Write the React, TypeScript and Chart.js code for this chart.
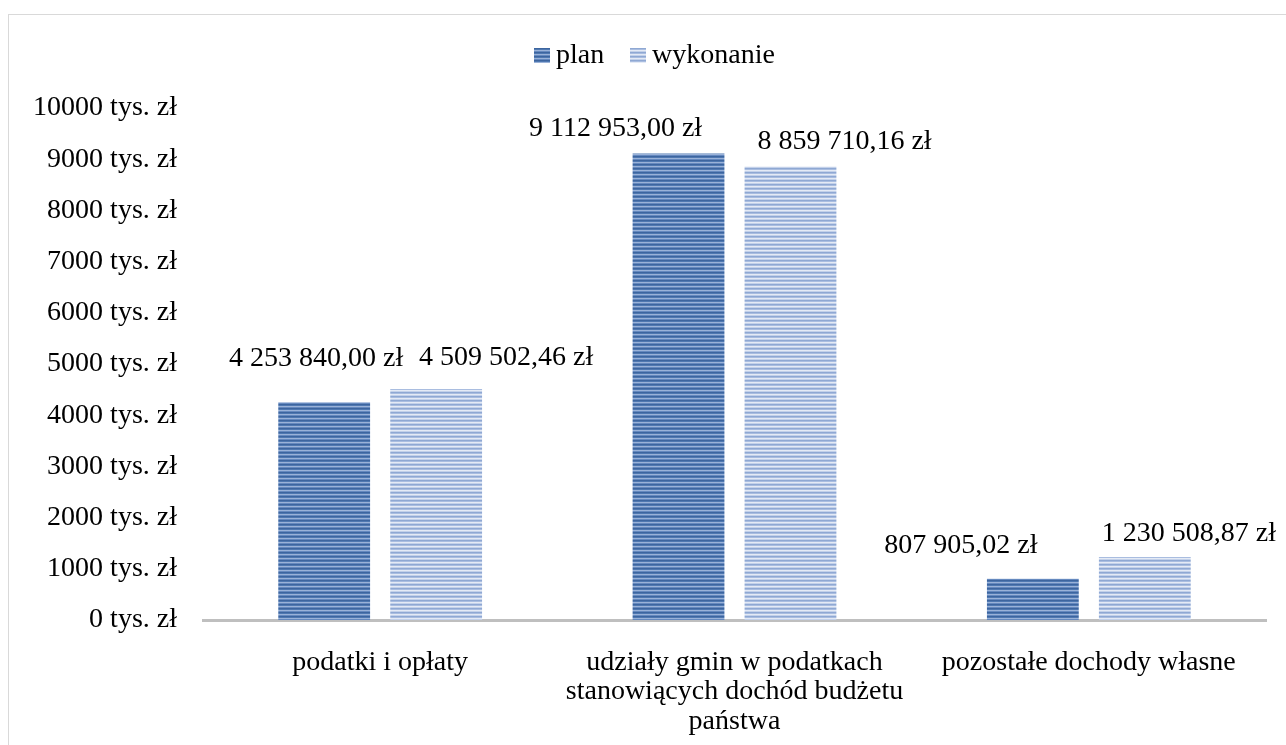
import React, { useEffect, useRef } from "react";
import { Chart, registerables } from "chart.js";

Chart.register(...registerables);

// ---- data ----
const categories: string[][] = [
  ["podatki i opłaty"],
  ["udziały gmin w podatkach", "stanowiących dochód budżetu", "państwa"],
  ["pozostałe dochody własne"],
];
const seriesNames = ["plan", "wykonanie"];
const planValues = [4253840.0, 9112953.0, 807905.02]; // zł
const wykonanieValues = [4509502.46, 8859710.16, 1230508.87]; // zł
const yTickValues = [0, 1000, 2000, 3000, 4000, 5000, 6000, 7000, 8000, 9000, 10000]; // tys. zł

// ---- layout / style (not data) ----
const FONT = "'Liberation Serif', 'Times New Roman', serif";
const labelOffsets: number[][][] = [
  [[-8, -44], [-63, -25], [-72, -33]],
  [[70, -31], [54, -25], [44, -23]],
];
const darkStripes = ["#3d659f", "#4f78b1", "#9ab2d8", "#6589bf"];
const lightStripes = ["#8fa8d3", "#a9bde0", "#e4eaf5", "#c3d1ea"];

function makeStripe(colors: string[]): CanvasPattern | string {
  const c = document.createElement("canvas");
  c.width = 8;
  c.height = colors.length;
  const g = c.getContext("2d");
  if (!g) return colors[0];
  colors.forEach((col, i) => {
    g.fillStyle = col;
    g.fillRect(0, i, 8, 1);
  });
  return g.createPattern(c, "repeat") || colors[0];
}

function fmtZl(v: number): string {
  const [intPart, dec] = v.toFixed(2).split(".");
  const grouped = intPart.replace(/\B(?=(\d{3})+(?!\d))/g, " ");
  return grouped + "," + dec + " zł";
}

export default function App() {
  const ref = useRef<HTMLCanvasElement | null>(null);

  useEffect(() => {
    const canvas = ref.current;
    if (!canvas) return;
    const patPlan = makeStripe(darkStripes);
    const patWyk = makeStripe(lightStripes);
    const rawSeries = [planValues, wykonanieValues];

    const labelsPlugin = {
      id: "valueLabels",
      afterDatasetsDraw(chart: any) {
        const ctx = chart.ctx;
        ctx.save();
        ctx.font = `28px ${FONT}`;
        ctx.fillStyle = "#000";
        ctx.textAlign = "center";
        ctx.textBaseline = "middle";
        chart.data.datasets.forEach((ds: any, di: number) => {
          const meta = chart.getDatasetMeta(di);
          meta.data.forEach((bar: any, i: number) => {
            const [dx, dy] = labelOffsets[di][i];
            ctx.fillText(fmtZl(rawSeries[di][i]), bar.x + dx, bar.y + dy);
          });
        });
        ctx.restore();
      },
    };

    const legendPlugin = {
      id: "customLegend",
      afterDraw(chart: any) {
        const ctx = chart.ctx;
        ctx.save();
        ctx.font = `28px ${FONT}`;
        ctx.textBaseline = "middle";
        ctx.textAlign = "left";
        const items = [
          { x: 534, pat: patPlan, text: seriesNames[0] },
          { x: 630, pat: patWyk, text: seriesNames[1] },
        ];
        items.forEach((it) => {
          ctx.fillStyle = it.pat;
          ctx.fillRect(it.x, 48, 16, 15);
          ctx.fillStyle = "#000";
          ctx.fillText(it.text, it.x + 22, 56);
        });
        ctx.restore();
      },
    };

    const chart = new Chart(canvas, {
      type: "bar",
      data: {
        labels: categories,
        datasets: [
          {
            label: seriesNames[0],
            data: planValues.map((v) => v / 1000),
            backgroundColor: patPlan as any,
            borderWidth: 0,
            categoryPercentage: 0.632,
            barPercentage: 0.82,
          },
          {
            label: seriesNames[1],
            data: wykonanieValues.map((v) => v / 1000),
            backgroundColor: patWyk as any,
            borderWidth: 0,
            categoryPercentage: 0.632,
            barPercentage: 0.82,
          },
        ],
      },
      options: {
        responsive: false,
        animation: false,
        devicePixelRatio: 1,
        layout: { padding: { top: 108, right: 20, left: 0, bottom: 0 } },
        plugins: {
          legend: { display: false },
          tooltip: { enabled: false },
          title: { display: false },
        },
        scales: {
          x: {
            grid: { display: false, drawTicks: false },
            border: { display: true, color: "#bfbfbf", width: 3 },
            ticks: {
              color: "#000",
              font: { family: FONT, size: 28, lineHeight: 1.05 },
              padding: 28,
              maxRotation: 0,
              autoSkip: false,
            },
            afterFit(scale: any) {
              scale.height = 125;
            },
          },
          y: {
            min: 0,
            max: 10000,
            grid: { display: false, drawTicks: false },
            border: { display: false },
            afterBuildTicks(scale: any) {
              scale.ticks = yTickValues.map((v) => ({ value: v }));
            },
            ticks: {
              color: "#000",
              font: { family: FONT, size: 28 },
              padding: 26,
              callback: (v: any) => `${v} tys. zł`,
            },
            afterFit(scale: any) {
              scale.width = 203;
            },
          },
        },
      },
      plugins: [labelsPlugin, legendPlugin],
    });

    return () => chart.destroy();
  }, []);

  return (
    <div
      style={{
        position: "fixed",
        left: 0,
        top: 0,
        width: 1286,
        height: 745,
        background: "#fff",
        overflow: "hidden",
      }}
    >
      <div
        style={{
          position: "absolute",
          left: 8,
          top: 14,
          width: 1300,
          height: 760,
          border: "1px solid #d9d9d9",
        }}
      />
      <canvas
        ref={ref}
        width={1286}
        height={745}
        style={{ position: "absolute", left: 0, top: 0, width: 1286, height: 745 }}
      />
    </div>
  );
}
